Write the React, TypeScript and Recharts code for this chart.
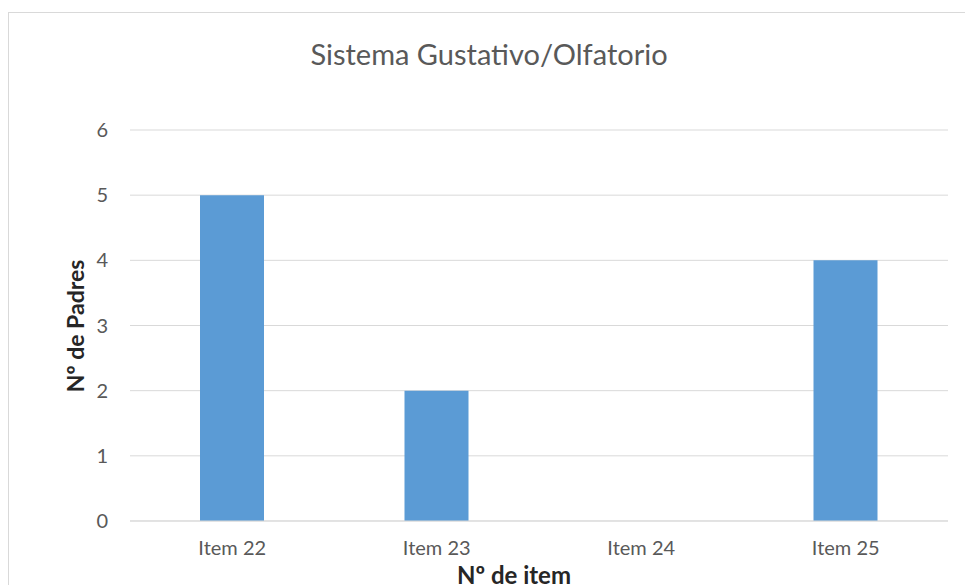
import { BarChart, Bar, XAxis, YAxis, CartesianGrid } from 'recharts'

const categories = ['Item 22', 'Item 23', 'Item 24', 'Item 25']
const padres = [5, 2, 0, 4]
const yTicks = [0, 1, 2, 3, 4, 5, 6]

const data = categories.map((item, i) => ({ item, padres: padres[i] }))

const font = 'Lato, "Open Sans", sans-serif'

export default function App() {
  return (
    <div style={{ position: 'absolute', left: 0, top: 0, width: 965, height: 585, overflow: 'hidden', background: '#fff', fontFamily: font }}>
      <div style={{ position: 'absolute', left: 8, top: 12, width: 1000, height: 620, border: '1px solid #d9d9d9', boxSizing: 'border-box' }} />
      <div style={{ position: 'absolute', left: 0, top: 36, width: 978, textAlign: 'center', fontSize: 29, color: '#595959' }}>
        Sistema Gustativo/Olfatorio
      </div>
      <div style={{ position: 'absolute', left: 0, top: 0 }}>
        <BarChart width={965} height={585} data={data} margin={{ top: 130, right: 17, left: 0, bottom: 0 }}>
          <CartesianGrid vertical={false} stroke="#d9d9d9" />
          <XAxis
            dataKey="item"
            height={64}
            tickSize={0}
            tickMargin={20}
            axisLine={{ stroke: '#d9d9d9' }}
            tick={{ fill: '#595959', fontSize: 20, fontFamily: font }}
          />
          <YAxis
            width={130}
            domain={[0, 6]}
            ticks={yTicks}
            tickSize={0}
            tickMargin={22}
            axisLine={false}
            tick={{ fill: '#595959', fontSize: 20, fontFamily: font }}
          />
          <Bar dataKey="padres" fill="#5b9bd5" barSize={64} isAnimationActive={false} />
        </BarChart>
      </div>
      <div style={{ position: 'absolute', left: 414, top: 560, width: 200, textAlign: 'center', fontSize: 24, fontWeight: 'bold', color: '#262626' }}>
        Nº de item
      </div>
      <div style={{ position: 'absolute', left: 75, top: 326, width: 0, height: 0 }}>
        <div style={{ position: 'absolute', left: -100, top: -15, width: 200, textAlign: 'center', fontSize: 23, fontWeight: 'bold', color: '#262626', transform: 'rotate(-90deg)', lineHeight: '30px' }}>
          Nº de Padres
        </div>
      </div>
    </div>
  )
}
